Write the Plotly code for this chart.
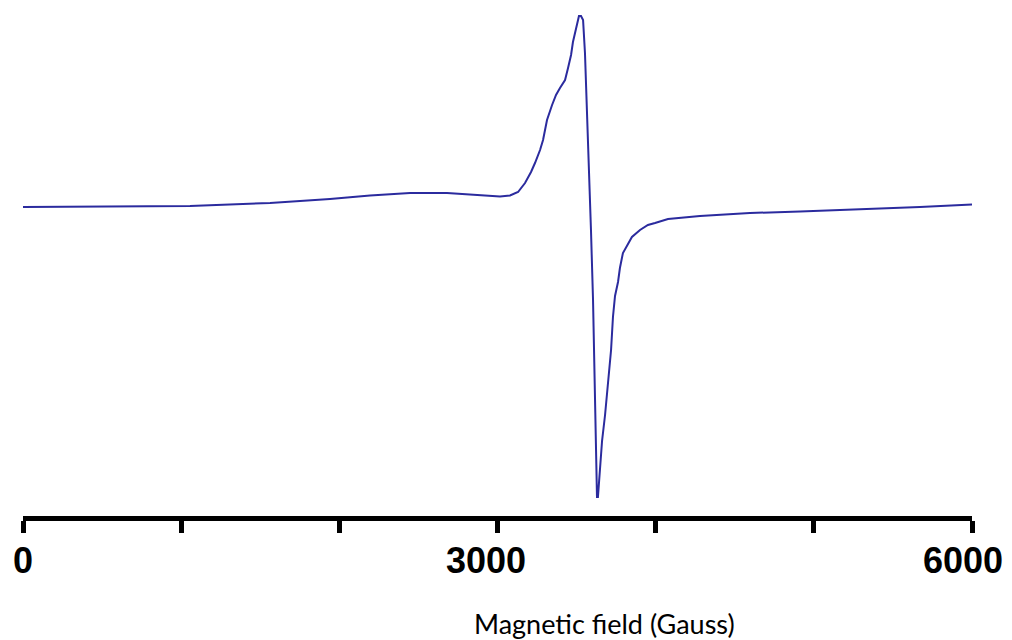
import plotly.graph_objects as go

# Magnetic field (Gauss) and EPR signal intensity (arbitrary units)
field = [0, 1056, 1562, 1941, 2194, 2447, 2681, 2889, 3016, 3079, 3130, 3174, 3212,
         3237, 3269, 3288, 3313, 3345, 3370, 3395, 3427, 3446, 3465, 3477, 3490,
         3503, 3515, 3528, 3541, 3553, 3566, 3579, 3591, 3604, 3617, 3629, 3635,
         3648, 3661, 3680, 3692, 3705, 3718, 3730, 3743, 3762, 3774, 3793, 3819,
         3850, 3901, 3951, 3996, 4078, 4280, 4596, 4913, 5292, 5671, 6000]
intensity = [0, 1, 4, 8, 11.5, 14, 14, 12, 10.5, 11.5, 15, 24, 35,
             44, 57, 67, 87, 102, 112, 119, 127, 139, 152, 165, 175,
             185, 191, 191, 187, 154, 97, 27, -23, -93, -193, -290, -290,
             -258, -234, -208, -185, -163, -143, -110, -89, -75, -61, -46, -38,
             -30, -23, -18, -16, -12, -9, -6, -4.5, -2.5, 0, 2.5]

tick_values = [0, 1000, 2000, 3000, 4000, 5000, 6000]
label_values = [0, 3000, 6000]
label_texts = ["0", "3000", "6000"]
label_shifts = [0, -12, -9]
axis_title = "Magnetic field (Gauss)"

fig = go.Figure()
fig.add_trace(go.Scatter(x=field, y=intensity, mode="lines",
                         line=dict(color="#2b2b9e", width=2), showlegend=False))

for v, t, s in zip(label_values, label_texts, label_shifts):
    fig.add_annotation(x=v, xref="x", y=0, yref="paper", yanchor="top",
                       yshift=-22, xshift=s, text="<b>%s</b>" % t, showarrow=False,
                       font=dict(family="Liberation Sans, Arial", size=36, color="black"))

fig.add_annotation(x=(604 - 23) / (972 - 23), xref="paper", y=0, yref="paper",
                   yshift=-107, yanchor="middle", text=axis_title, showarrow=False,
                   font=dict(family="Lato, Open Sans", size=27, color="black"))

fig.update_layout(
    width=1012, height=640,
    margin=dict(l=23, r=40, t=10, b=124),
    paper_bgcolor="white", plot_bgcolor="white",
    xaxis=dict(range=[0, 6000], showgrid=False, zeroline=False, showline=True,
               linecolor="black", linewidth=5, ticks="outside", ticklen=12,
               tickwidth=5, tickcolor="black", tickvals=tick_values,
               showticklabels=False),
    yaxis=dict(range=[-309, 197], visible=False),
)

fig.write_html("out.html", config={"displayModeBar": False},
               post_script="document.body.style.margin='0px';")
